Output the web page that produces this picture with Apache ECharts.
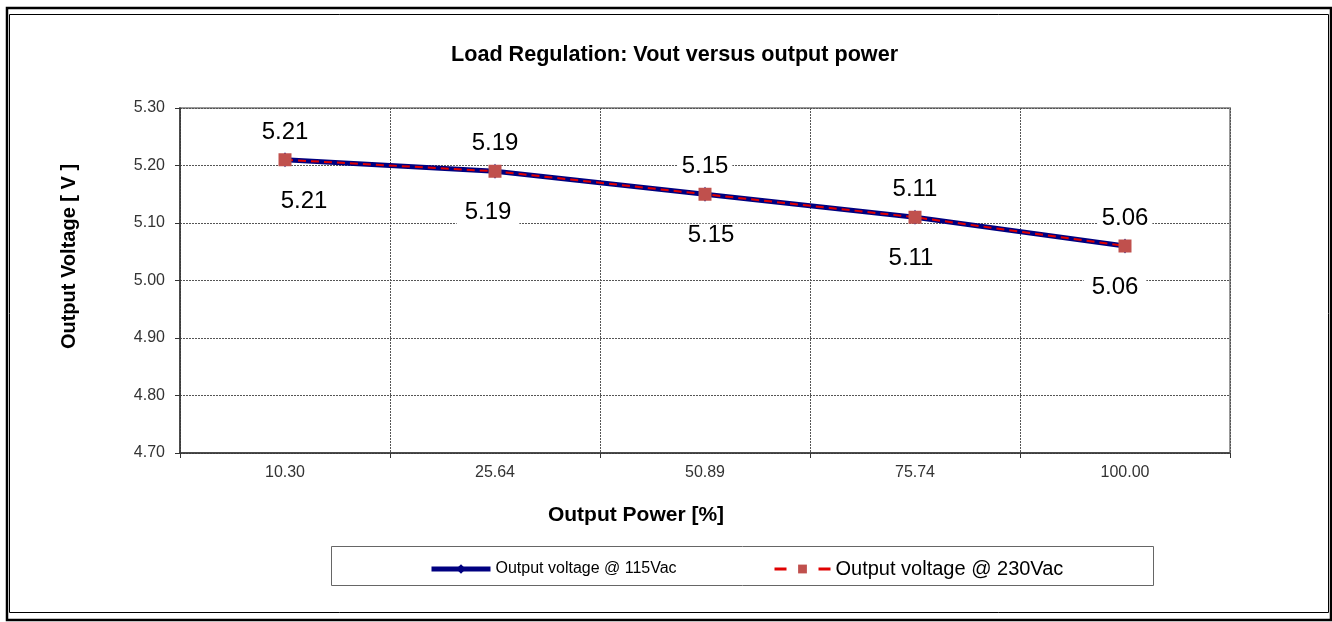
<!DOCTYPE html>
<html>
<head>
<meta charset="utf-8">
<script src="https://cdn.jsdelivr.net/npm/echarts@6/dist/echarts.min.js"></script>
<style>
  html, body { margin: 0; padding: 0; background: #fff; }
  #chart { width: 1332px; height: 622px; }
</style>
</head>
<body>
<div id="chart"></div>
<script>
// data
const outputPower = ['10.30', '25.64', '50.89', '75.74', '100.00'];
const vout115 = [5.21, 5.19, 5.15, 5.11, 5.06];
const vout230 = [5.21, 5.19, 5.15, 5.11, 5.06];

// small horizontal nudges of the lower labels (style only)
const lowerLabelDx = [19, -7, 6, -4, -10];

const chartDom = document.getElementById('chart');
const myChart = echarts.init(chartDom);

const font = 'Liberation Sans, Arial, sans-serif';

const option = {
  animation: false,
  backgroundColor: '#fff',
  title: {
    text: 'Load Regulation: Vout versus output power',
    left: 446,
    top: 39,
    textStyle: { fontFamily: font, fontSize: 21.6, fontWeight: 'bold', color: '#000' }
  },
  legend: [
    {
      left: 424,
      top: 556,
      itemWidth: 59,
      itemHeight: 12,
      itemGap: 4,
      data: [{
        name: 'Output voltage @ 115Vac',
        itemStyle: { color: '#000080' },
        lineStyle: { width: 5, color: '#000080' },
        textStyle: { fontFamily: font, fontSize: 16, color: '#000' }
      }]
    },
    {
      left: 768,
      top: 554,
      itemWidth: 56,
      itemHeight: 11,
      data: [{
        name: 'Output voltage @ 230Vac',
        lineStyle: { width: 3, color: '#E00000', type: [12, 32] },
        textStyle: { fontFamily: font, fontSize: 20, color: '#000' }
      }]
    }
  ],
  grid: {
    left: 180,
    right: 102,
    top: 108,
    bottom: 169,
    show: true,
    borderColor: '#999',
    borderWidth: 2
  },
  xAxis: {
    type: 'category',
    data: outputPower,
    boundaryGap: true,
    name: 'Output Power [%]',
    nameLocation: 'middle',
    nameGap: 52,
    nameTextStyle: {
      fontFamily: font, fontSize: 21, fontWeight: 'bold', color: '#000',
      padding: [0, 138, 0, 0]
    },
    axisLine: { lineStyle: { color: '#333', width: 1.5 } },
    axisTick: { show: true, length: 5, lineStyle: { color: '#333' } },
    axisLabel: { fontFamily: font, fontSize: 16, color: '#333', margin: 12 },
    splitLine: { show: true, lineStyle: { color: '#555', type: [2, 1], width: 1 } }
  },
  yAxis: {
    type: 'value',
    min: 4.7,
    max: 5.3,
    interval: 0.1,
    name: 'Output Voltage [ V ]',
    nameLocation: 'middle',
    nameGap: 101,
    nameTextStyle: {
      fontFamily: font, fontSize: 20, fontWeight: 'bold', color: '#000',
      padding: [0, 0, 0, 48]
    },
    axisLine: { show: true, lineStyle: { color: '#333', width: 1.5 } },
    axisTick: { show: true, length: 5, lineStyle: { color: '#333' } },
    axisLabel: {
      fontFamily: font, fontSize: 16, color: '#333', margin: 15,
      formatter: (v) => v.toFixed(2)
    },
    splitLine: { show: true, lineStyle: { color: '#555', type: [2, 1], width: 1 } }
  },
  series: [
    {
      type: 'line',
      name: 'Output voltage @ 115Vac',
      data: vout115,
      symbol: 'diamond',
      symbolSize: [10, 15],
      itemStyle: { color: '#000080' },
      lineStyle: { color: '#000080', width: 5 },
      label: {
        show: true,
        position: 'top',
        distance: 8,
        formatter: (p) => p.value.toFixed(2),
        fontFamily: font,
        fontSize: 24,
        color: '#000',
        backgroundColor: '#fff',
        padding: [0, 4]
      },
      z: 2
    },
    {
      type: 'line',
      name: 'Output voltage @ 230Vac',
      data: vout230.map((v, i) => ({
        value: v,
        label: { offset: [lowerLabelDx[i], 0] }
      })),
      symbol: 'rect',
      symbolSize: 13,
      itemStyle: { color: '#C0504D' },
      lineStyle: { color: '#E00000', width: 2, type: [8, 5] },
      label: {
        show: true,
        position: 'bottom',
        distance: 23,
        formatter: (p) => p.value.toFixed(2),
        fontFamily: font,
        fontSize: 24,
        color: '#000',
        backgroundColor: '#fff',
        padding: [0, 8]
      },
      z: 3
    }
  ],
  graphic: [
    {
      type: 'rect',
      shape: { x: 7, y: 8, width: 1324, height: 612 },
      style: { fill: 'none', stroke: '#000', lineWidth: 2.5 },
      silent: true
    },
    {
      type: 'rect',
      shape: { x: 9.5, y: 14.5, width: 1319, height: 598 },
      style: { fill: 'none', stroke: '#000', lineWidth: 1 },
      silent: true
    },
    {
      type: 'rect',
      shape: { x: 331.5, y: 546.5, width: 822, height: 39 },
      style: { fill: 'none', stroke: '#666', lineWidth: 1 },
      silent: true,
      z: -1
    }
  ]
};

myChart.setOption(option);
</script>
</body>
</html>
